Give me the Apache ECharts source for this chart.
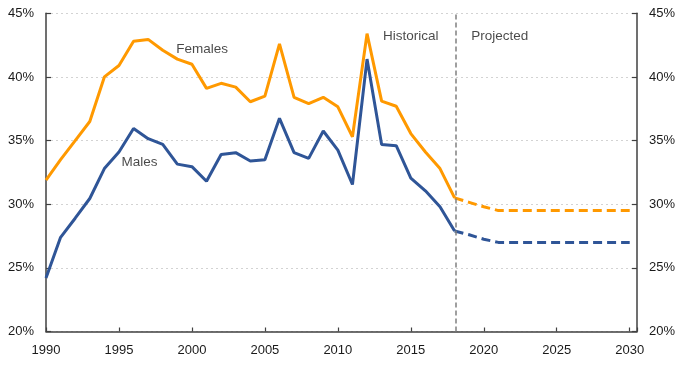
<!DOCTYPE html>
<html>
<head>
<meta charset="utf-8">
<script src="https://cdn.jsdelivr.net/npm/echarts@6/dist/echarts.min.js"></script>
<style>
html,body{margin:0;padding:0;background:#fff;}
#chart{width:684px;height:365px;}
</style>
</head>
<body>
<div id="chart"></div>
<script>
// Historical data (per cent)
const histYears = [1990,1991,1992,1993,1994,1995,1996,1997,1998,1999,2000,2001,2002,2003,2004,2005,2006,2007,2008,2009,2010,2011,2012,2013,2014,2015,2016,2017,2018];
const femalesHist = [31.9,33.5,35.0,36.5,40.0,40.9,42.8,42.95,42.1,41.4,41.0,39.1,39.5,39.2,38.05,38.5,42.6,38.4,37.9,38.4,37.65,35.3,43.4,38.1,37.7,35.55,34.1,32.8,30.5];
const malesHist = [24.2,27.4,28.9,30.45,32.8,34.1,35.95,35.15,34.7,33.15,32.95,31.8,33.9,34.05,33.4,33.5,36.75,34.05,33.6,35.75,34.25,31.55,41.4,34.7,34.6,32.05,31.05,29.8,27.9];
// Projections
const projYears = [2018,2019,2020,2021,2022,2023,2024,2025,2026,2027,2028,2029,2030];
const femalesProj = [30.5,30.15,29.8,29.5,29.5,29.5,29.5,29.5,29.5,29.5,29.5,29.5,29.5];
const malesProj = [27.9,27.6,27.25,27.0,27.0,27.0,27.0,27.0,27.0,27.0,27.0,27.0,27.0];
// Divider between historical and projected
const dividerYear = 2018.1;
// Axis ranges
const xTicks = [1990,1995,2000,2005,2010,2015,2020,2025,2030];
const yTicks = [20,25,30,35,40,45];
// Text annotations: [year, value, text]
const annotations = [
  [2000.7, 42.2, 'Females'],
  [1996.4, 33.3, 'Males'],
  [2015.0, 43.2, 'Historical'],
  [2021.1, 43.2, 'Projected']
];

const ORANGE = '#FF9900';
const BLUE = '#2F5597';
const FONT = 'Liberation Sans';
const TXT = '#1a1a1a';

const zip = (xs, ys) => xs.map((x, i) => [x, ys[i]]);

const chart = echarts.init(document.getElementById('chart'), null, {renderer: 'canvas'});
const yAxisBase = {
  type: 'value', min: yTicks[0], max: yTicks[yTicks.length - 1], interval: 5,
  axisLine: {show: true, lineStyle: {color: '#404040', width: 1.5}},
  axisTick: {show: true, inside: true, length: 5, lineStyle: {color: '#404040', width: 1.2}},
  axisLabel: {formatter: '{value}%', color: TXT, fontFamily: FONT, fontSize: 13, margin: 12}
};
chart.setOption({
  animation: false,
  grid: {left: 46, right: 47, top: 13.3, bottom: 33.5, containLabel: false},
  xAxis: {
    type: 'value', min: xTicks[0], max: 2030.5, interval: 5,
    axisLine: {show: true, onZero: false, lineStyle: {color: '#404040', width: 1.5}},
    axisTick: {show: true, inside: true, length: 4, lineStyle: {color: '#404040', width: 1.2}},
    axisLabel: {
      color: TXT, fontFamily: FONT, fontSize: 13, margin: 12,
      formatter: v => (xTicks.indexOf(v) >= 0 ? String(v) : '')
    },
    splitLine: {show: false}
  },
  yAxis: [
    Object.assign({}, yAxisBase, {
      position: 'left',
      splitLine: {show: true, lineStyle: {color: '#D3D3D3', type: [2, 3], width: 1}}
    }),
    Object.assign({}, yAxisBase, {position: 'right', splitLine: {show: false}})
  ],
  series: [
    {
      type: 'line', data: zip(histYears, femalesHist), showSymbol: false, symbol: 'none',
      lineStyle: {color: ORANGE, width: 3}, z: 3,
      markLine: {
        silent: true, symbol: 'none', label: {show: false},
        lineStyle: {color: '#808080', type: [5, 3], width: 1.5},
        data: [{xAxis: dividerYear}]
      }
    },
    {
      type: 'line', data: zip(projYears, femalesProj), showSymbol: false, symbol: 'none',
      lineStyle: {color: ORANGE, width: 3, type: [9, 5]}, z: 3
    },
    {
      type: 'line', data: zip(histYears, malesHist), showSymbol: false, symbol: 'none',
      lineStyle: {color: BLUE, width: 3}, z: 3
    },
    {
      type: 'line', data: zip(projYears, malesProj), showSymbol: false, symbol: 'none',
      lineStyle: {color: BLUE, width: 3, type: [9, 5]}, z: 3
    },
    {
      type: 'scatter', symbolSize: 0, silent: true, z: 5,
      data: annotations.map(a => ({value: [a[0], a[1]], name: a[2]})),
      label: {
        show: true, position: 'inside', formatter: p => p.name,
        color: TXT, fontFamily: FONT, fontSize: 13.5
      }
    }
  ]
});
</script>
</body>
</html>
